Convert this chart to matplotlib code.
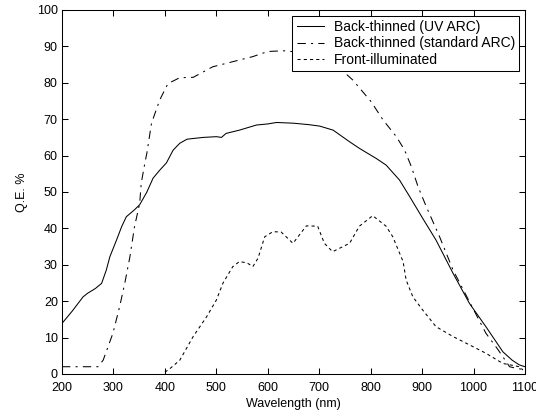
import matplotlib
matplotlib.use("Agg")
import matplotlib.pyplot as plt

plt.rcParams["font.family"] = ["Liberation Sans", "DejaVu Sans"]
plt.rcParams["font.size"] = 9

# Back-thinned (UV ARC)
uv_wl = [200, 220, 241, 250, 265, 277, 286, 293, 306, 316, 325, 340, 351, 365, 377,
         390, 403, 416, 429, 443, 455, 475, 500, 510, 519, 545, 578, 600, 617, 650,
         680, 701, 727, 759, 778, 811, 830, 856, 876, 901, 927, 960, 992, 1024, 1057,
         1075, 1089, 1100]
uv_qe = [13.9, 17.3, 21.2, 22.2, 23.5, 24.9, 28.5, 32.2, 36.8, 40.5, 43.2, 45.0, 46.5,
         50.0, 53.8, 56.0, 58.0, 61.5, 63.4, 64.5, 64.7, 65.0, 65.2, 65.0, 66.1, 67.0,
         68.4, 68.7, 69.1, 68.9, 68.5, 68.1, 67.0, 63.8, 62.0, 59.2, 57.4, 53.3, 48.7,
         42.8, 36.8, 27.7, 19.4, 13.0, 6.1, 3.8, 2.5, 2.0]

# Back-thinned (standard ARC)
std_wl = [200, 270, 280, 299, 312, 322, 332, 341, 351, 354, 361, 365, 374, 390, 406,
          429, 455, 493, 532, 571, 600, 630, 670, 710, 740, 765, 801, 824, 850, 866,
          879, 892, 908, 934, 960, 997, 1024, 1048, 1070, 1085, 1100]
std_qe = [2.0, 2.0, 3.8, 11.2, 18.5, 24.9, 32.2, 40.5, 46.9, 52.4, 57.9, 60.7, 68.9,
          75.3, 79.8, 81.4, 81.5, 84.4, 85.8, 87.2, 88.6, 88.8, 88.3, 86.5, 84.0, 80.8,
          74.8, 69.8, 65.2, 61.5, 57.0, 51.5, 46.0, 37.7, 28.6, 18.5, 11.2, 6.6, 2.0,
          1.5, 1.2]

# Front-illuminated
fi_wl = [400, 410, 429, 455, 481, 500, 513, 532, 545, 560, 571, 581, 594, 610, 626,
         649, 675, 697, 710, 726, 759, 778, 804, 830, 843, 863, 869, 882, 901, 927,
         960, 992, 1024, 1057, 1089, 1096]
fi_qe = [0.5, 1.5, 3.8, 10.3, 15.7, 20.3, 25.0, 29.5, 30.9, 30.5, 29.5, 31.8, 37.7,
         39.1, 39.0, 35.9, 40.7, 40.6, 35.9, 33.6, 35.9, 40.6, 43.5, 40.6, 37.7, 30.9,
         25.8, 21.2, 17.6, 13.0, 10.3, 8.0, 5.7, 2.9, 2.0, 1.1]

fig = plt.figure(figsize=(5.36, 4.16), dpi=100)
ax = fig.add_axes([62 / 536, 42 / 416, 463 / 536, 364 / 416])

ax.plot(uv_wl, uv_qe, color="black", lw=0.75, label="Back-thinned (UV ARC)")
ax.plot(std_wl, std_qe, color="black", lw=0.75, linestyle=(0, (8, 5, 2, 5)),
        label="Back-thinned (standard ARC)")
ax.plot(fi_wl, fi_qe, color="black", lw=0.75, linestyle=(0, (3, 3)),
        label="Front-illuminated")

ax.set_xlim(200, 1100)
ax.set_ylim(0, 100)
ax.set_xticks(range(200, 1101, 100))
ax.set_yticks(range(0, 101, 10))
ax.tick_params(direction="in", length=4, width=0.75, top=True, right=True,
               labelsize=9)
ax.tick_params(axis="x", pad=6)
ax.tick_params(axis="y", pad=3)
for s in ax.spines.values():
    s.set_linewidth(0.75)

ax.set_xlabel("Wavelength (nm)", labelpad=3)
ax.set_ylabel("Q.E. %", labelpad=6)

leg = ax.legend(loc="upper right", fancybox=False, edgecolor="black",
                framealpha=1, borderaxespad=0.4, handlelength=2.0,
                handletextpad=0.7, borderpad=0.3, labelspacing=0.2,
                fontsize=10)
leg.get_frame().set_linewidth(0.75)

fig.savefig("out.png", dpi=100)
